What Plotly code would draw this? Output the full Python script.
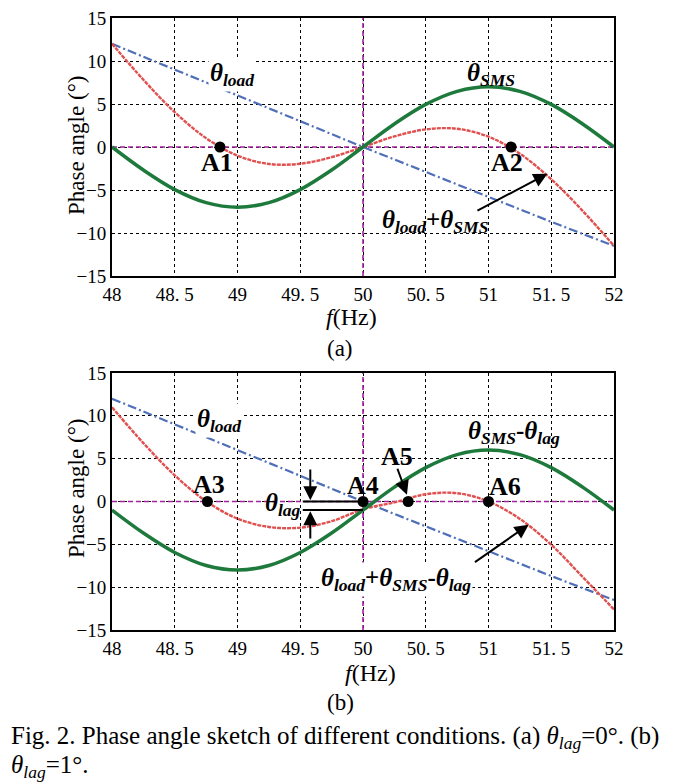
import plotly.graph_objects as go

# ---------------- data ----------------
freq = [48.0, 48.25, 48.5, 48.75, 49.0, 49.25, 49.5, 49.75, 50.0,
        50.25, 50.5, 50.75, 51.0, 51.25, 51.5, 51.75, 52.0]

theta_load = [12.0, 10.5, 9.0, 7.5, 6.0, 4.5, 3.0, 1.5, 0.0,
              -1.45, -2.9, -4.35, -5.8, -7.25, -8.7, -10.1, -11.5]

# panel (a): theta_lag = 0
theta_sms_a = [0.0, -2.68, -4.95, -6.47, -7.0, -6.47, -4.95, -2.68, 0.0,
               2.68, 4.95, 6.47, 7.0, 6.47, 4.95, 2.68, 0.0]
theta_sum_a = [12.0, 7.82, 4.05, 1.03, -1.0, -1.97, -1.95, -1.18, 0.0,
               1.23, 2.05, 2.12, 1.2, -0.78, -3.75, -7.42, -11.5]

# panel (b): theta_lag = 1
theta_sms_b = [-1.0, -3.68, -5.95, -7.47, -8.0, -7.47, -5.95, -3.68, -1.0,
               1.68, 3.95, 5.47, 6.0, 5.47, 3.95, 1.68, -1.0]
theta_sum_b = [11.0, 6.82, 3.05, 0.03, -2.0, -2.97, -3.05, -2.3, -0.9,
               -0.1, 0.85, 0.97, 0.0, -2.03, -5.05, -8.8, -12.6]

x_tickvals = [48, 48.5, 49, 49.5, 50, 50.5, 51, 51.5, 52]
x_ticktext = ["48", "48. 5", "49", "49. 5", "50", "50. 5", "51", "51. 5", "52"]
y_tickvals = [-15, -10, -5, 0, 5, 10, 15]

points_a_name = ["A1", "A2"]
points_a_f = [48.86, 51.18]
points_a_phase = [0, 0]

points_b_name = ["A3", "A4", "A5", "A6"]
points_b_f = [48.76, 50.0, 50.36, 51.0]
points_b_phase = [0, 0, 0, 0]

F_NOMINAL = 50.0
THETA_LAG = 1.0

# ---------------- layout helpers ----------------
# the page body adds an 8px margin, so the figure is 8px smaller on each side
OFF = 8
W, H = 684 - OFF, 782 - OFF

def fx(px):
    return (px - OFF) / W

def fy(py):
    return 1 - (py - OFF) / H

SERIF = "Liberation Serif"
BLUE = "#4f6fb8"
RED = "#e0504f"
GREEN = "#1e7a3c"
PURPLE = "#a3229f"

fig = go.Figure()

def add_panel(xa, ya, sms, total):
    fig.add_trace(go.Scatter(x=freq, y=theta_load, xaxis=xa, yaxis=ya, mode="lines",
                             line=dict(color=BLUE, width=2.2, dash="9px,3px,2px,3px", shape="spline"),
                             showlegend=False))
    fig.add_trace(go.Scatter(x=freq, y=total, xaxis=xa, yaxis=ya, mode="lines",
                             line=dict(color=RED, width=2.4, dash="4px,1px", shape="spline"),
                             showlegend=False))
    fig.add_trace(go.Scatter(x=freq, y=sms, xaxis=xa, yaxis=ya, mode="lines",
                             line=dict(color=GREEN, width=3.5, shape="spline"),
                             showlegend=False))

add_panel("x", "y", theta_sms_a, theta_sum_a)
add_panel("x2", "y2", theta_sms_b, theta_sum_b)

fig.add_trace(go.Scatter(x=points_a_f, y=points_a_phase, xaxis="x", yaxis="y", mode="markers",
                         marker=dict(color="black", size=11), showlegend=False))
fig.add_trace(go.Scatter(x=points_b_f, y=points_b_phase, xaxis="x2", yaxis="y2", mode="markers",
                         marker=dict(color="black", size=11), showlegend=False))

# reference lines (f = 50 Hz, phase = 0)
shapes = []
for xr, yr in (("x", "y"), ("x2", "y2")):
    shapes.append(dict(type="line", xref=xr, yref=yr, x0=48, x1=52, y0=0, y1=0,
                       line=dict(color=PURPLE, width=1.6, dash="5px,3px"), layer="between"))
    shapes.append(dict(type="line", xref=xr, yref=yr, x0=F_NOMINAL, x1=F_NOMINAL, y0=-15, y1=15,
                       line=dict(color=PURPLE, width=1.6, dash="5px,3px"), layer="between"))
# theta_lag bracket lines in panel (b)
for yv in (0, -THETA_LAG):
    shapes.append(dict(type="line", xref="x2", yref="y2", x0=49.52, x1=F_NOMINAL, y0=yv, y1=yv,
                       line=dict(color="black", width=2)))
fig.update_layout(shapes=shapes)

axis_common = dict(showline=True, mirror=True, linecolor="black", linewidth=2,
                   showgrid=True, gridcolor="black", gridwidth=1, griddash="dot",
                   zeroline=False, ticks="", automargin=False, ticklabeloverflow="allow",
                   tickfont=dict(family=SERIF, size=19, color="black"))

XDOM = [fx(112), fx(614)]
fig.update_layout(
    width=W, height=H,
    margin=dict(l=0, r=0, t=0, b=0, pad=0, autoexpand=False),
    paper_bgcolor="white", plot_bgcolor="white",
    xaxis=dict(domain=XDOM, range=[48, 52], tickvals=x_tickvals, ticktext=x_ticktext,
               anchor="y", **axis_common),
    yaxis=dict(domain=[fy(276), fy(18)], range=[-15, 15], tickvals=y_tickvals,
               anchor="x", **axis_common),
    xaxis2=dict(domain=XDOM, range=[48, 52], tickvals=x_tickvals, ticktext=x_ticktext,
                anchor="y2", **axis_common),
    yaxis2=dict(domain=[fy(630), fy(373)], range=[-15, 15], tickvals=y_tickvals,
                anchor="x2", **axis_common),
)

def th(sub):
    return "<b><i>θ</i></b><sub><b><i>%s</i></b></sub>" % sub

ann = []
def label(text, x, y, xr, yr, size=25, bg=None):
    d = dict(text=text, x=x, y=y, xref=xr, yref=yr, showarrow=False,
             font=dict(family=SERIF, size=size, color="black"))
    if bg:
        d["bgcolor"] = bg
    ann.append(d)

def arrow(x, y, ax, ay, xr, yr):
    ann.append(dict(text="", x=x, y=y, ax=ax, ay=ay, xref=xr, yref=yr, axref=xr, ayref=yr,
                    showarrow=True, arrowhead=2, arrowsize=1.4, arrowwidth=2, arrowcolor="black"))

# panel (a)
label(th("load"), 48.96, 8.4, "x", "y", bg="white")
label(th("SMS"), 51.02, 8.4, "x", "y")
label("<b>A1</b>", 48.84, -1.75, "x", "y", size=26)
label("<b>A2</b>", 51.15, -1.75, "x", "y", size=26)
label(th("load") + "<b>+</b>" + th("SMS"), 50.57, -8.7, "x", "y")
arrow(51.47, -3.1, 50.9, -7.5, "x", "y")

# panel (b)
label(th("load"), 48.85, 9.4, "x2", "y2", bg="white")
label(th("SMS") + "<b>-</b>" + th("lag"), 51.2, 8.1, "x2", "y2")
label("<b>A3</b>", 48.77, 2.0, "x2", "y2", size=26)
label("<b>A4</b>", 50.0, 1.9, "x2", "y2", size=26)
label("<b>A5</b>", 50.27, 5.2, "x2", "y2", size=26)
label("<b>A6</b>", 51.13, 1.7, "x2", "y2", size=26)
label(th("lag"), 49.36, -0.3, "x2", "y2")
label(th("load") + "<b>+</b>" + th("SMS") + "<b>-</b>" + th("lag"), 50.26, -9.05, "x2", "y2", bg="white")
arrow(50.35, 0.8, 50.27, 4.0, "x2", "y2")
arrow(49.58, 0.15, 49.58, 3.9, "x2", "y2")
arrow(49.58, -1.15, 49.58, -4.5, "x2", "y2")
arrow(51.32, -2.7, 50.88, -7.2, "x2", "y2")

# axis titles and captions (paper coordinates)
def ptext(text, px, py, size, angle=0, xanchor="center"):
    ann.append(dict(text=text, x=fx(px), y=fy(py), xref="paper", yref="paper",
                    showarrow=False, textangle=angle, xanchor=xanchor, yanchor="middle",
                    font=dict(family=SERIF, size=size, color="black")))

ptext("Phase angle (°)", 76, 146, 23, angle=-90)
ptext("Phase angle (°)", 76, 489, 23, angle=-90)
ptext("<i>f</i>(Hz)", 351, 317, 24)
ptext("<i>f</i>(Hz)", 370, 673, 24)
ptext("(a)", 340, 348, 23)
ptext("(b)", 340, 702, 23)
ptext("Fig. 2. Phase angle sketch of different conditions. (a) <i>θ</i><sub><i>lag</i></sub>=0°. (b)",
      9, 737, 25, xanchor="left")
ptext("<i>θ</i><sub><i>lag</i></sub>=1°.", 9, 766, 25, xanchor="left")

fig.update_layout(annotations=ann)

fig.write_html("out.html")
